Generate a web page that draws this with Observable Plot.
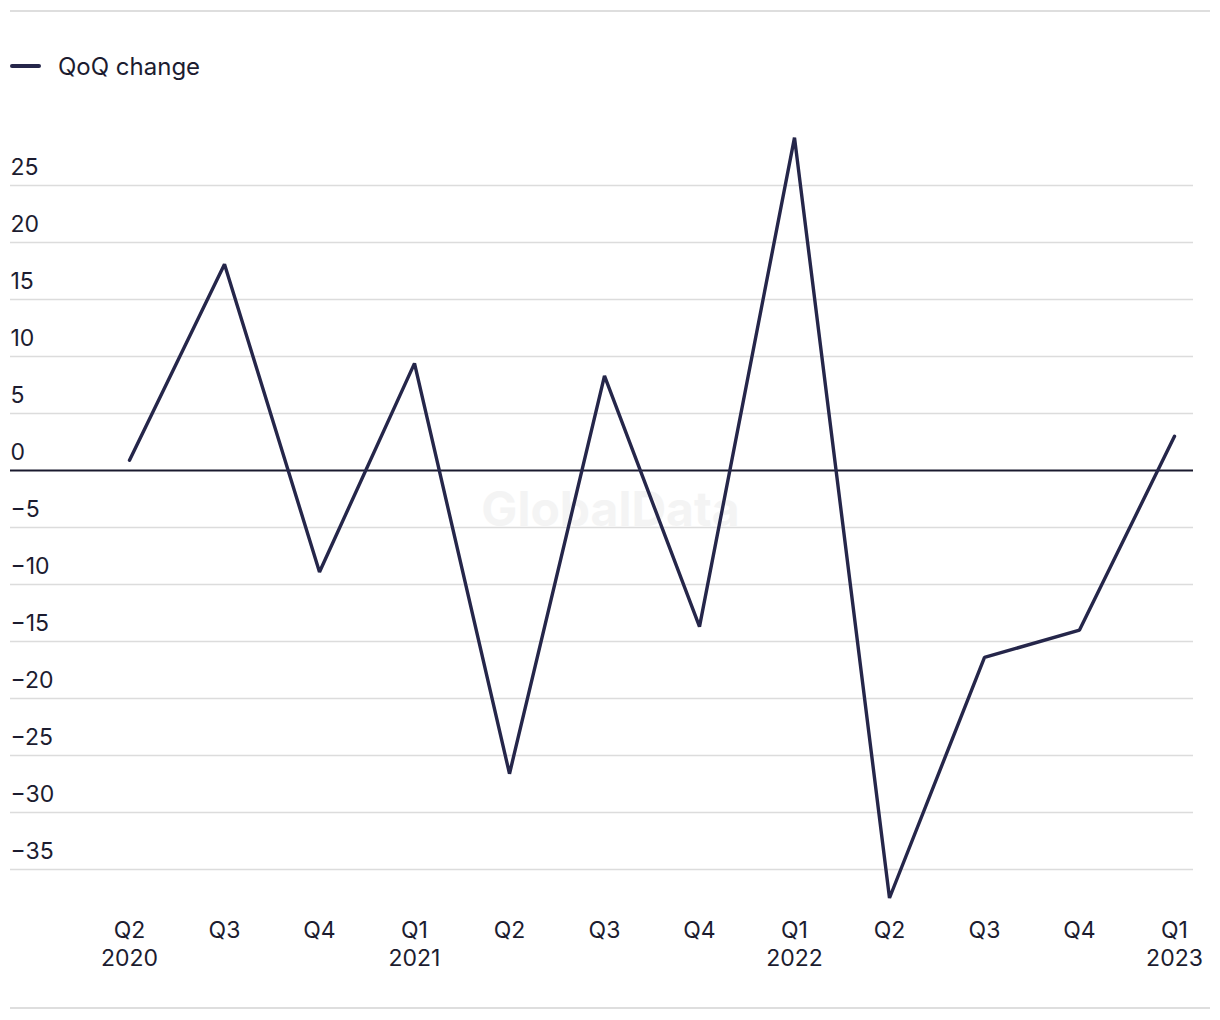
<!DOCTYPE html>
<html>
<head>
<meta charset="utf-8">
<script src="https://cdn.jsdelivr.net/npm/d3@7"></script>
<script src="https://cdn.jsdelivr.net/npm/@observablehq/plot@0.6"></script>
<style>
  html, body { margin: 0; padding: 0; background: #fff; }
  body { width: 1220px; height: 1020px; position: relative; font-family: Inter, "Liberation Sans", sans-serif; color: #1c1c30; overflow: hidden; }
  .rule { position: absolute; left: 10px; width: 1200px; height: 0; border-top: 2px solid #dedede; }
  #legend { position: absolute; left: 10px; top: 52px; height: 28px; display: flex; align-items: center; font-size: 24px; }
  #legend .sw { width: 31px; height: 4px; border-radius: 2px; background: #25264a; margin-right: 17px; }
  #chart { position: absolute; left: 0; top: 100px; }
</style>
</head>
<body>
<div class="rule" style="top:10px"></div>
<div id="legend"><span class="sw"></span><span>QoQ change</span></div>
<div id="chart"></div>
<div class="rule" style="top:1007px"></div>
<script>
const quarters = ["Q2","Q3","Q4","Q1","Q2","Q3","Q4","Q1","Q2","Q3","Q4","Q1"];
const years = ["2020","","","2021","","","","2022","","","","2023"];
const qoqChange = [0.9, 18.1, -8.9, 9.4, -26.6, 8.3, -13.7, 29.2, -37.5, -16.4, -14.0, 3.0];
const yTicks = [25, 20, 15, 10, 5, 0, -5, -10, -15, -20, -25, -30, -35];
const yTickLabels = ["25","20","15","10","5","0","\u22125","\u221210","\u221215","\u221220","\u221225","\u221230","\u221235"];

const data = qoqChange.map((v, i) => ({i, v}));
const tickData = yTicks.map((t, k) => ({t, label: yTickLabels[k]}));

const chart = Plot.plot({
  width: 1220,
  height: 900,
  marginLeft: 127,
  marginRight: 45,
  marginTop: 28,
  marginBottom: 74,
  style: {fontFamily: "Inter, 'Liberation Sans', sans-serif", color: "#1c1c30", background: "transparent"},
  x: {type: "point", domain: d3.range(quarters.length), padding: 0, label: null},
  y: {domain: [-40, 30], axis: null},
  marks: [
    Plot.ruleY(yTicks.filter(t => t !== 0), {stroke: "#dcdcdc", strokeWidth: 1.5, insetLeft: -117, insetRight: -18}),
    Plot.ruleY([0], {stroke: "#1a1a2e", strokeWidth: 2, insetLeft: -117, insetRight: -18}),
    Plot.text(["GlobalData"], {frameAnchor: "middle", dx: -41, dy: -17, fontSize: 48, fontWeight: "bold", fill: "#f4f4f4"}),
    Plot.text(tickData, {y: "t", text: "label", frameAnchor: "left", textAnchor: "start", dx: -117, dy: -18, fontSize: 23, fill: "#1c1c30"}),
    Plot.axisX({tickSize: 0, tickPadding: 0, dy: -8, fontSize: 23, lineHeight: 28/23, fill: "#1c1c30", label: null,
      tickFormat: i => quarters[i] + (years[i] ? "\n" + years[i] : "")}),
    Plot.line(data, {x: "i", y: "v", stroke: "#25264a", strokeWidth: 3.4, strokeLinejoin: "miter"})
  ]
});
document.getElementById("chart").appendChild(chart);
</script>
</body>
</html>
